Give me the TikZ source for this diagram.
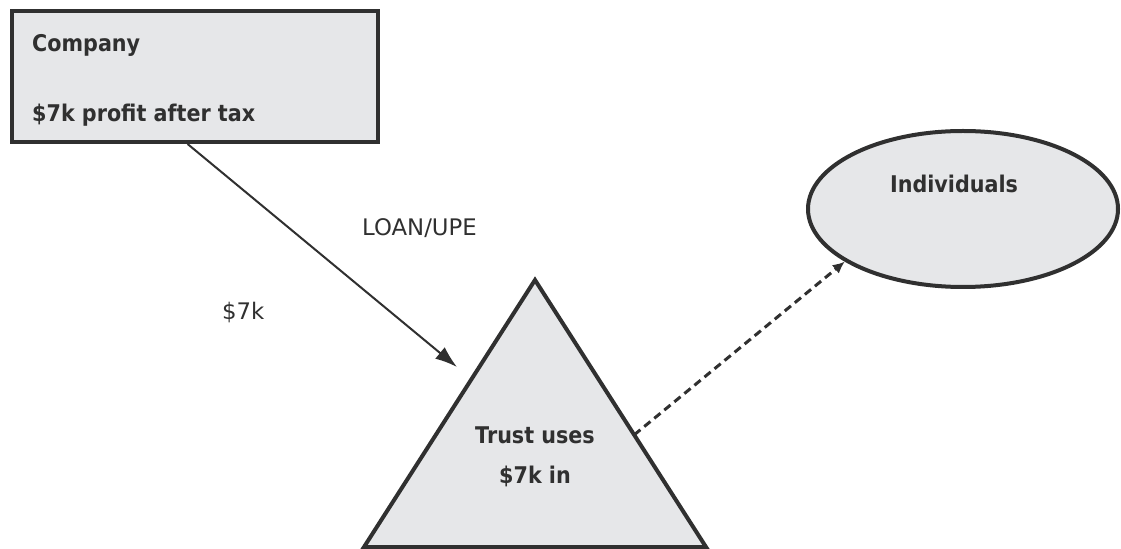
\documentclass[tikz,border=0pt]{standalone}
\usepackage{fontspec}
\setmainfont{DejaVu Sans}
\newfontfamily\headfont[FakeStretch=0.9]{DejaVu Sans}
\usetikzlibrary{shapes.geometric,arrows.meta,calc}
\definecolor{inkgray}{HTML}{303030}
\definecolor{shapefill}{HTML}{E6E7E9}
\begin{document}
\begin{tikzpicture}[x=1bp,y=-1bp,
  shapeline/.style={draw=inkgray, line width=4bp, fill=shapefill},
  boldtext/.style={font=\headfont\bfseries\fontsize{23bp}{27bp}\selectfont, text=inkgray, inner sep=0pt},
  plaintext/.style={font=\fontsize{22.8bp}{27bp}\selectfont, text=inkgray, inner sep=0pt},
  flow/.style={draw=inkgray, line width=2bp, -{Latex[length=22bp,width=15bp]}},
  dashflow/.style={draw=inkgray, line width=3bp, dash pattern=on 8bp off 5bp, -{Latex[length=12bp,width=11bp]}}]
\useasboundingbox (0,0) rectangle (1121,549);

% Company box
\node[shapeline, rectangle, minimum width=366bp, minimum height=131bp, inner sep=0pt] (company) at (195,76.5) {};
\node[boldtext, anchor=base west] (companyname) at (32,52) {Company};
\node[boldtext, anchor=base west] (companyprofit) at (32,122) {\$7k profit after tax};

% Individuals ellipse
\node[shapeline, ellipse, minimum width=310bp, minimum height=156bp, inner sep=0pt] (indiv) at (963,209) {};
\node[boldtext, anchor=base] (indivname) at (954,193) {Individuals};

% Trust triangle
\coordinate (apex) at (535,280);
\coordinate (baseL) at (364,547);
\coordinate (baseR) at (706,547);
\draw[shapeline, line join=miter] (apex) -- (baseL) -- (baseR) -- cycle;
\node[boldtext, anchor=base] (trustA) at (535,443) {Trust uses};
\node[boldtext, anchor=base] (trustB) at (535,483) {\$7k in};

% Loan from the company to the trust
\coordinate (loanend) at (457,367);
\draw[flow] ($(company.south west)!0.48!(company.south east)$) -- (loanend);
\node[plaintext, anchor=base west] (loanlabel) at (362,236) {LOAN/UPE};
\node[plaintext, anchor=base west] (amountlabel) at (222,320) {\$7k};

% Trust to individuals
\draw[dashflow] ($(apex)!0.58!(baseR)$) -- (indiv.204.6);
\end{tikzpicture}
\end{document}
